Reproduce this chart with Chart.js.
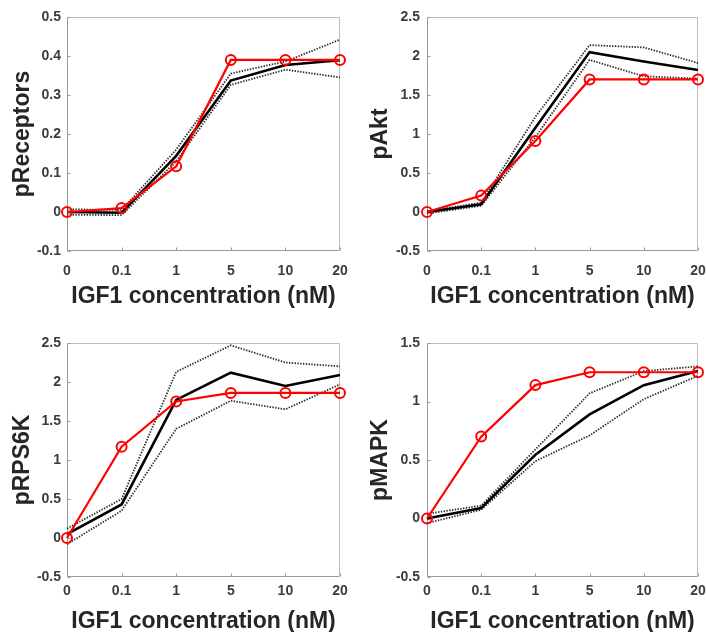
<!DOCTYPE html>
<html>
<head>
<meta charset="utf-8">
<script src="https://cdn.jsdelivr.net/npm/chart.js@4.4.1/dist/chart.umd.min.js"></script>
<style>
  html, body { margin: 0; padding: 0; background: #ffffff; }
  #wrap { position: relative; width: 706px; height: 632px; background: #ffffff; overflow: hidden; }
  .panel { position: absolute; width: 353px; height: 316px; }
  .panel canvas { display: block; }
</style>
</head>
<body>
<div id="wrap">
  <div class="panel" style="left:0;top:0"><canvas id="c1" width="353" height="316"></canvas></div>
  <div class="panel" style="left:353px;top:0"><canvas id="c2" width="353" height="316"></canvas></div>
  <div class="panel" style="left:0;top:316px"><canvas id="c3" width="353" height="316"></canvas></div>
  <div class="panel" style="left:353px;top:316px"><canvas id="c4" width="353" height="316"></canvas></div>
</div>
<script>
// ---- data ----
const concentrations = ['0', '0.1', '1', '5', '10', '20'];
const xAxisTitle = 'IGF1 concentration (nM)';

const receptorsExp   = [0, 0.01, 0.117, 0.39, 0.39, 0.39];
const receptorsMean  = [0, -0.002, 0.144, 0.337, 0.377, 0.389];
const receptorsUpper = [0.007, 0.005, 0.16, 0.355, 0.386, 0.442];
const receptorsLower = [-0.007, -0.008, 0.13, 0.326, 0.365, 0.345];
const receptorsTicks = [-0.1, 0, 0.1, 0.2, 0.3, 0.4, 0.5];

const aktExp   = [0, 0.21, 0.91, 1.70, 1.70, 1.70];
const aktMean  = [0, 0.10, 1.08, 2.05, 1.93, 1.82];
const aktUpper = [0.01, 0.12, 1.22, 2.14, 2.11, 1.91];
const aktLower = [-0.02, 0.08, 0.96, 1.95, 1.74, 1.71];
const aktTicks = [-0.5, 0, 0.5, 1, 1.5, 2, 2.5];

const rps6kExp   = [0, 1.17, 1.75, 1.86, 1.86, 1.86];
const rps6kMean  = [0.05, 0.43, 1.77, 2.12, 1.95, 2.09];
const rps6kUpper = [0.12, 0.50, 2.13, 2.47, 2.25, 2.20];
const rps6kLower = [-0.08, 0.35, 1.40, 1.76, 1.65, 1.97];
const rps6kTicks = [-0.5, 0, 0.5, 1, 1.5, 2, 2.5];

const mapkExp   = [0, 0.70, 1.14, 1.25, 1.25, 1.25];
const mapkMean  = [0, 0.09, 0.545, 0.89, 1.14, 1.26];
const mapkUpper = [0.04, 0.11, 0.59, 1.07, 1.26, 1.30];
const mapkLower = [-0.04, 0.075, 0.49, 0.71, 1.02, 1.22];
const mapkTicks = [-0.5, 0, 0.5, 1, 1.5];

// ---- styling / layout ----
const FONT = "'Liberation Sans', Arial, Helvetica, sans-serif";
const TICK_COLOR = '#3c3c3c';
const TITLE_COLOR = '#262626';

const framePlugin = {
  id: 'frame',
  beforeDatasetsDraw(chart) {
    const a = chart.chartArea, ctx = chart.ctx;
    const L = Math.round(a.left) + 0.5, R = Math.round(a.right) - 0.5;
    const T = Math.round(a.top) + 0.5, B = Math.round(a.bottom) - 0.5;
    ctx.save();
    ctx.lineWidth = 1;
    // top & right (lighter)
    ctx.strokeStyle = '#bdbdbd';
    ctx.beginPath(); ctx.moveTo(L, T); ctx.lineTo(R, T); ctx.lineTo(R, B); ctx.stroke();
    // left & bottom (darker)
    ctx.strokeStyle = '#9a9a9a';
    ctx.beginPath(); ctx.moveTo(L, T); ctx.lineTo(L, B); ctx.lineTo(R, B); ctx.stroke();
    // inward tick marks
    const xs = chart.scales.x, ys = chart.scales.y;
    ctx.beginPath();
    xs.ticks.forEach((t, i) => {
      const px = Math.round(xs.getPixelForTick(i)) + 0.5;
      ctx.moveTo(px, B); ctx.lineTo(px, B - 3);
    });
    ys.ticks.forEach((t, i) => {
      const py = Math.round(ys.getPixelForTick(i)) + 0.5;
      ctx.moveTo(L, py); ctx.lineTo(L + 3, py);
    });
    ctx.stroke();
    ctx.restore();
  }
};

function makePanel(id, yLabel, exp, mean, upper, lower, ticks, lay) {
  const yMin = ticks[0], yMax = ticks[ticks.length - 1];
  new Chart(document.getElementById(id), {
    type: 'line',
    data: {
      labels: concentrations,
      datasets: [
        { data: exp, borderColor: '#ff0000', backgroundColor: 'rgba(0,0,0,0)', borderWidth: 2.2,
          pointRadius: 5, pointBorderWidth: 2, pointBorderColor: '#ff0000',
          pointBackgroundColor: 'rgba(0,0,0,0)', tension: 0, order: 0 },
        { data: mean, borderColor: '#000000', borderWidth: 2.6, pointRadius: 0, tension: 0, order: 1 },
        { data: upper, borderColor: '#2a2a2a', borderWidth: 1.8, borderDash: [1.4, 1.4],
          pointRadius: 0, tension: 0, order: 2 },
        { data: lower, borderColor: '#2a2a2a', borderWidth: 1.8, borderDash: [1.4, 1.4],
          pointRadius: 0, tension: 0, order: 3 }
      ]
    },
    options: {
      responsive: false,
      animation: false,
      devicePixelRatio: 1,
      layout: { padding: { top: lay.padTop, right: lay.padRight, left: 0, bottom: 0 } },
      plugins: { legend: { display: false }, tooltip: { enabled: false } },
      scales: {
        x: {
          type: 'category',
          offset: false,
          grid: { display: false, drawTicks: false },
          border: { display: false },
          ticks: { autoSkip: false, maxRotation: 0, padding: lay.xTickPad, color: TICK_COLOR,
                   font: { family: FONT, size: 14, weight: 'bold' } },
          title: { display: true, text: xAxisTitle, color: TITLE_COLOR,
                   font: { family: FONT, size: 23, weight: 'bold', lineHeight: 1 },
                   padding: { top: 0, bottom: lay.xTitlePad } },
          afterFit(scale) { scale.height = lay.xHeight; scale.paddingLeft = 0; scale.paddingRight = 0; }
        },
        y: {
          type: 'linear',
          min: yMin, max: yMax,
          grid: { display: false, drawTicks: false },
          border: { display: false },
          afterBuildTicks(scale) { scale.ticks = ticks.map(v => ({ value: v })); },
          ticks: { padding: lay.yTickPad, color: TICK_COLOR,
                   font: { family: FONT, size: 14, weight: 'bold' },
                   callback: v => String(Math.round(v * 100) / 100) },
          title: { display: true, text: yLabel, color: TITLE_COLOR,
                   font: { family: FONT, size: 23, weight: 'bold', lineHeight: 1 },
                   padding: { top: lay.yTitlePad, bottom: 0 } },
          afterFit(scale) { scale.width = lay.yWidth; scale.paddingTop = 0; scale.paddingBottom = 0; }
        }
      }
    },
    plugins: [framePlugin]
  });
}

makePanel('c1', 'pReceptors', receptorsExp, receptorsMean, receptorsUpper, receptorsLower, receptorsTicks,
  { yWidth: 67, padTop: 17, padRight: 13, xHeight: 65, xTickPad: 12, xTitlePad: 8, yTickPad: 6, yTitlePad: 11.5 });
makePanel('c2', 'pAkt', aktExp, aktMean, aktUpper, aktLower, aktTicks,
  { yWidth: 74, padTop: 17, padRight: 8, xHeight: 65, xTickPad: 12, xTitlePad: 8, yTickPad: 7, yTitlePad: 16.5 });
makePanel('c3', 'pRPS6K', rps6kExp, rps6kMean, rps6kUpper, rps6kLower, rps6kTicks,
  { yWidth: 67, padTop: 27, padRight: 13, xHeight: 55, xTickPad: 6, xTitlePad: -1.5, yTickPad: 6, yTitlePad: 11.5 });
makePanel('c4', 'pMAPK', mapkExp, mapkMean, mapkUpper, mapkLower, mapkTicks,
  { yWidth: 74, padTop: 27, padRight: 8, xHeight: 55, xTickPad: 6, xTitlePad: -1.5, yTickPad: 7, yTitlePad: 16.5 });
</script>
</body>
</html>
